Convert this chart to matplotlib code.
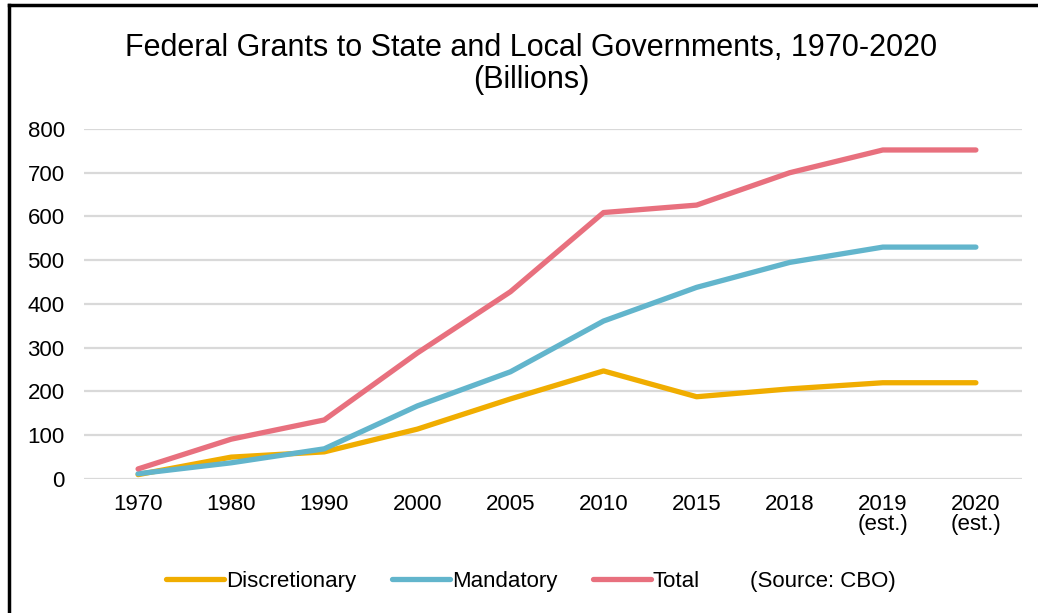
import matplotlib.pyplot as plt
from matplotlib.lines import Line2D

plt.rcParams['font.family'] = ['Liberation Sans', 'DejaVu Sans']

years = ["1970", "1980", "1990", "2000", "2005", "2010", "2015", "2018", "2019\n(est.)", "2020\n(est.)"]
discretionary = [10, 50, 62, 114, 183, 247, 188, 206, 220, 220]
mandatory = [12, 37, 69, 167, 245, 361, 438, 495, 530, 530]
total = [23, 91, 135, 288, 428, 609, 626, 700, 752, 752]

colors = {"Discretionary": "#F0AD00", "Mandatory": "#62B5CC", "Total": "#E8707E"}

fig = plt.figure(figsize=(10.38, 6.13), dpi=100)
ax = fig.add_axes([0.081, 0.2186, 0.904, 0.571])

x = range(len(years))
ax.plot(x, discretionary, color=colors["Discretionary"], lw=3.8, solid_capstyle="round", label="Discretionary", zorder=3)
ax.plot(x, mandatory, color=colors["Mandatory"], lw=3.8, solid_capstyle="round", label="Mandatory", zorder=4)
ax.plot(x, total, color=colors["Total"], lw=3.8, solid_capstyle="round", label="Total", zorder=5)

ax.set_ylim(0, 800)
ax.set_xlim(-0.58, 9.5)
ax.set_yticks(range(0, 801, 100))
ax.set_xticks(list(x))
ax.set_xticklabels(years, fontsize=16, linespacing=0.95)
ax.tick_params(axis="y", labelsize=16, length=0, pad=14)
ax.tick_params(axis="x", length=0, pad=11)
ax.grid(axis="y", color="#D9D9D9", lw=1.6, zorder=0)
for s in ax.spines.values():
    s.set_visible(False)

fig.text(0.512, 0.896, "Federal Grants to State and Local Governments, 1970-2020\n(Billions)",
         ha="center", va="center", fontsize=22, linespacing=1.1)

handles = [Line2D([], [], color=colors[k], lw=3.8, solid_capstyle="round") for k in colors]
fig.legend(handles, list(colors), loc="center left", bbox_to_anchor=(0.141, 0.051), ncol=3,
           frameon=False, fontsize=16, handlelength=2.6, handletextpad=0.1, columnspacing=1.6)
fig.text(0.7225, 0.051, "(Source: CBO)", ha="left", va="center", fontsize=16)

# black border on the left and top
fig.add_artist(Line2D([0.0085, 0.0085], [0, 0.992], color="black", lw=2.5, transform=fig.transFigure))
fig.add_artist(Line2D([0.0085, 1.0], [0.992, 0.992], color="black", lw=2.5, transform=fig.transFigure))

fig.savefig("out.png", dpi=100)
